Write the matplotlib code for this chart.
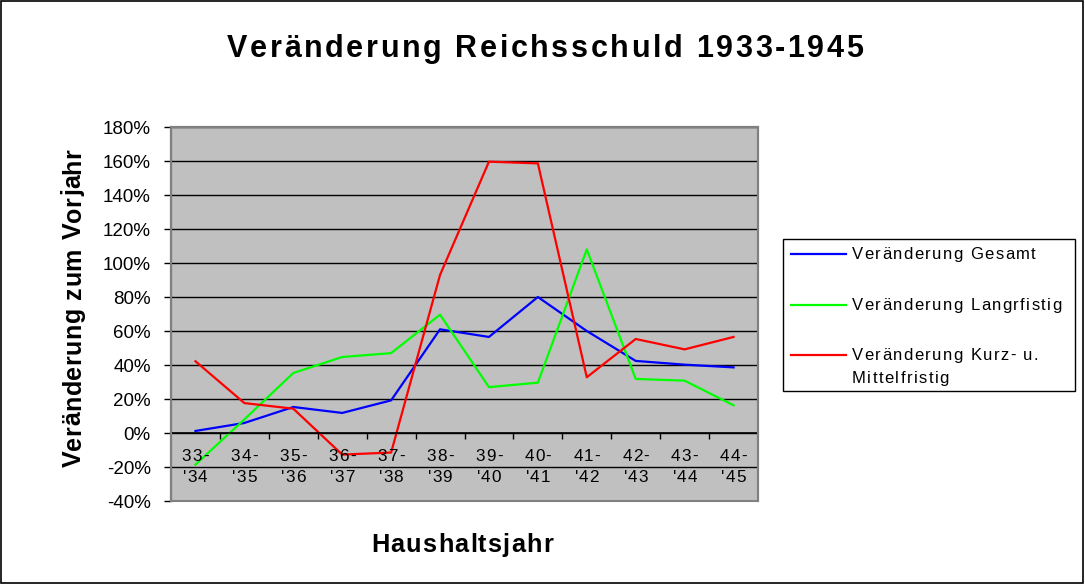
import matplotlib
matplotlib.use("Agg")
import matplotlib.pyplot as plt
from matplotlib.patches import Rectangle
from matplotlib.lines import Line2D
from matplotlib.ticker import FuncFormatter
from matplotlib.font_manager import FontProperties, findfont
from matplotlib.ft2font import FT2Font

plt.rcParams['font.family'] = ['Liberation Sans', 'DejaVu Sans']

jahre = [("33-", "'34"), ("34-", "'35"), ("35-", "'36"), ("36-", "'37"),
         ("37-", "'38"), ("38-", "'39"), ("39-", "'40"), ("40-", "'41"),
         ("41-", "'42"), ("42-", "'43"), ("43-", "'44"), ("44-", "'45")]
gesamt = [1.2, 5.9, 15.3, 11.8, 19.2, 61.0, 56.5, 80.0, 60.0, 42.4, 40.2, 38.6]
langfristig = [-18.6, 8.0, 35.3, 44.7, 47.0, 69.6, 27.0, 29.6, 108.0, 31.8, 30.8, 16.3]
kurzfristig = [42.2, 17.6, 14.3, -12.7, -11.5, 93.0, 159.6, 158.6, 32.8, 55.3, 49.2, 56.5]
namen = ['Veränderung Gesamt', 'Veränderung Langrfistig', 'Veränderung Kurz- u.\nMittelfristig']
farben = ['#0000ff', '#00ff00', '#ff0000']

W, H = 1085, 584
fig = plt.figure(figsize=(W / 100, H / 100), dpi=100)
fig.patches.append(Rectangle((0.001, 0.002), 0.997, 0.996, transform=fig.transFigure,
                             fill=False, edgecolor='black', linewidth=1.2))


def advances(s, size, weight):
    f = FT2Font(findfont(FontProperties(family='Liberation Sans', weight=weight)))
    f.set_size(size, 100)
    return [f.load_char(ord(c)).linearHoriAdvance / 65536 for c in s]


# letter-spaced text, pixel coords from the top-left corner, y = baseline
def spaced_text(s, x, y, size, weight='normal', track=0.0, width=None, ha='left', rotation=0):
    adv = advances(s, size, weight)
    if width is not None:
        track = (width - sum(adv)) / (len(s) - 1)
    total = sum(adv) + track * (len(s) - 1)
    pos = -total / 2 if ha == 'center' else 0.0
    for c, a in zip(s, adv):
        if rotation == 0:
            px, py = x + pos, y
        else:
            px, py = x, y - pos
        fig.text(px / W, 1 - py / H, c, fontsize=size, fontweight=weight,
                 rotation=rotation, rotation_mode='anchor', ha='left', va='baseline')
        pos += a + track


ax = fig.add_axes([171 / W, 1 - 501 / H, 587 / W, 374 / H])
ax.set_facecolor('#c0c0c0')

x = range(len(jahre))
for werte, name, farbe in zip([gesamt, langfristig, kurzfristig], namen, farben):
    ax.plot(x, werte, color=farbe, lw=1.6, label=name)

ax.set_xlim(-0.5, len(jahre) - 0.5)
ax.set_ylim(-40, 180)
ax.set_yticks(range(-40, 181, 20))
ax.yaxis.set_major_formatter(FuncFormatter(lambda v, p: '%d%%' % v))
ax.yaxis.grid(True, color='black', lw=1)
ax.set_axisbelow(True)
ax.tick_params(axis='y', direction='out', length=5, width=1, labelsize=13.5, pad=9.5)

# category axis crosses at 0
ax.spines['bottom'].set_position(('data', 0))
ax.spines['bottom'].set_color('black')
ax.spines['bottom'].set_linewidth(1.2)
ax.spines['left'].set_linewidth(1.5)
for sp in ['top', 'right']:
    ax.spines[sp].set_color('#808080')
    ax.spines[sp].set_linewidth(1.5)
ax.add_patch(Rectangle((0, 0), 1, 1, transform=ax.transAxes, fill=False,
                       edgecolor='#808080', lw=1.5, zorder=5, clip_on=False))
ax.set_xticks([i + 0.5 for i in range(len(jahre) - 1)])
ax.set_xticklabels([])
ax.tick_params(axis='x', which='major', direction='out', length=4, width=1)

# category labels, two lines each
for i, (z1, z2) in enumerate(jahre):
    cx = ax.transData.transform((i, 0))[0]
    spaced_text(z1, cx, 460.7, 12.3, track=1.2, ha='center')
    spaced_text(z2, cx, 482.3, 12.3, track=0.9, ha='center')

spaced_text('Veränderung Reichsschuld 1933-1945', 227, 56.7, 22, 'bold', width=636)
spaced_text('Veränderung zum Vorjahr', 80.5, 467, 18, 'bold', width=319, rotation=90)
spaced_text('Haushaltsjahr', 371, 551.7, 18.3, 'bold', width=182)

# legend box
fig.patches.append(Rectangle((783 / W, 1 - 391 / H), 292 / W, 152 / H, transform=fig.transFigure,
                             fill=True, facecolor='white', edgecolor='black', lw=1))
zeilen_y = [254.3, 305, 355]
for name, farbe, ly in zip(namen, farben, zeilen_y):
    fig.add_artist(Line2D([791 / W, 846 / W], [1 - ly / H, 1 - ly / H], color=farbe, lw=1.6))
    for k, teil in enumerate(name.split('\n')):
        spaced_text(teil, 852, ly + 5 + k * 23.3, 12, track=1.45)

fig.savefig('out.png', dpi=100)
